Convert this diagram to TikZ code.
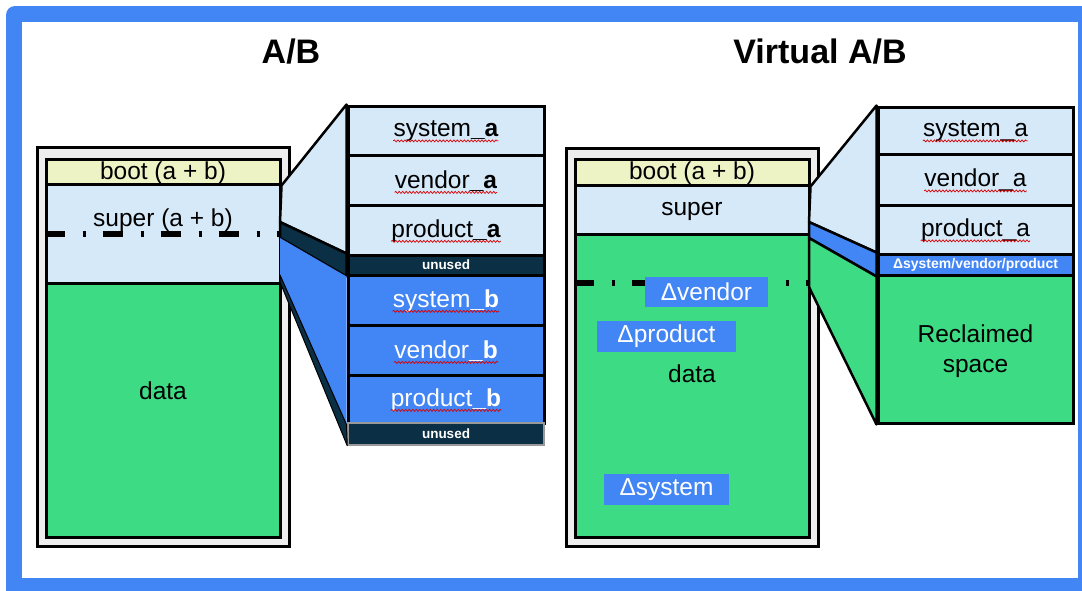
\documentclass[tikz,border=0pt]{standalone}
\usepackage{fontspec}
\setmainfont{Liberation Sans}
\usetikzlibrary{decorations.pathmorphing}

\definecolor{gblue}{HTML}{4285F4}
\definecolor{paleblue}{HTML}{D5E9F9}
\definecolor{bootyellow}{HTML}{EEF3C6}
\definecolor{droid}{HTML}{3DDC84}
\definecolor{navy}{HTML}{0B2F44}
\definecolor{casing}{HTML}{EEEEEE}

\tikzset{
  big/.style={font=\fontsize{24.5}{30}\selectfont, inner sep=0pt},
  title/.style={font=\bfseries\fontsize{34}{40}\selectfont},
  small/.style={font=\bfseries\fontsize{13.5}{15}\selectfont, text=white, inner sep=0pt},
  casebox/.style={draw, line width=3pt, fill=casing, inner sep=0pt, minimum width=252pt},
  slab/.style={draw, line width=3pt, inner sep=0pt, minimum width=234pt},
  part/.style={draw, line width=3pt, inner sep=0pt, minimum width=196pt},
  wedge/.style={draw, line width=2.5pt, line join=round},
  delta/.style={fill=gblue, text=white, big},
  spell/.style={red!85!black, line width=0.7pt, decorate,
    decoration={snake, amplitude=1pt, segment length=3.5pt}},
  dashdot/.style={line width=5.5pt, dash pattern=on 20pt off 18pt on 3pt off 17pt},
}

\begin{document}
\begin{tikzpicture}[x=1pt, y=-1pt]
  \useasboundingbox (0,0) rectangle (1082,590);
  % frame
  \fill[gblue, rounded corners=9pt] (6,6) rectangle (1110,620);
  \fill[white] (22,22) rectangle (1078,578);

  % A/B
  \node[title] (ab-title) at (291,52) {A/B};
  \node[casebox, minimum height=399pt] (ab-case) at (163,346.5) {};
  \node[slab, fill=bootyellow, minimum height=25pt] (ab-boot) at (163,171.5) {};
  \node[slab, fill=paleblue, minimum height=99pt] (ab-super) at (163,233.5) {};
  \node[slab, fill=droid, minimum height=254pt] (ab-data) at (163,410) {};
  \draw[dashdot] (ab-super.west |- 0,234) -- (ab-super.east |- 0,234);
  \node[big] (ab-boot-t) at (163,173) {boot (a + b)};
  \node[big] (ab-super-t) at (163,220) {super (a + b)};
  \node[big] (ab-data-t) at (163,391) {data};

  \coordinate (ab-cut1) at (280,222);
  \coordinate (ab-cut2) at (280,238);
  \coordinate (ab-cut3) at (280,275);
  \coordinate (ab-cut4) at (280,282);

  \node[part, fill=paleblue, minimum height=49pt] (ab-sa) at (446,130.5) {};
  \node[part, fill=paleblue, minimum height=50pt] (ab-va) at (446,180) {};
  \node[part, fill=paleblue, minimum height=50pt] (ab-pa) at (446,230) {};
  \node[part, fill=navy, minimum height=20pt] (ab-u1) at (446,265) {};
  \node[part, fill=gblue, minimum height=50pt] (ab-sb) at (446,300) {};
  \node[part, fill=gblue, minimum height=50pt] (ab-vb) at (446,350) {};
  \node[part, fill=gblue, minimum height=48pt] (ab-pb) at (446,399) {};
  \node[part, fill=navy, draw=gray!80, line width=1.5pt, minimum height=22pt] (ab-u2) at (446,434) {};

  % connectors
  \filldraw[wedge, fill=paleblue] (ab-boot.south east) -- (ab-sa.north west) -- (ab-u1.north west) -- (ab-cut1) -- cycle;
  \filldraw[wedge, fill=navy] (ab-cut1) -- (ab-u1.north west) -- (ab-u1.south west) -- (ab-cut2) -- cycle;
  \fill[gblue] (ab-cut2) -- (ab-u1.south west) -- (ab-pb.south west) -- (ab-cut3) -- cycle;
  \filldraw[wedge, fill=navy, line width=1pt] (ab-cut3) -- (ab-pb.south west) -- (ab-u2.south west) -- (ab-cut4) -- cycle;

  \node[big] (ab-sa-t) at (446,131.5) {system\textbf{\_a}};
  \node[big] (ab-va-t) at (446,181) {vendor\textbf{\_a}};
  \node[big] (ab-pa-t) at (446,231) {product\textbf{\_a}};
  \node[small] (ab-u1-t) at (ab-u1) {unused};
  \node[big, text=white] (ab-sb-t) at (446,301) {system\textbf{\_b}};
  \node[big, text=white] (ab-vb-t) at (446,351) {vendor\textbf{\_b}};
  \node[big, text=white] (ab-pb-t) at (446,400) {product\textbf{\_b}};
  \node[small] (ab-u2-t) at (ab-u2) {unused};

  % Virtual A/B
  \node[title] (vab-title) at (820,52) {Virtual A/B};
  \node[casebox, minimum height=398pt] (vab-case) at (692,347) {};
  \node[slab, fill=bootyellow, minimum height=26pt] (vab-boot) at (692,172) {};
  \node[slab, fill=paleblue, minimum height=49pt] (vab-super) at (692,209.5) {};
  \node[slab, fill=droid, minimum height=303pt] (vab-data) at (692,385.5) {};
  \draw[dashdot] (vab-data.west |- 0,283) -- (vab-data.east |- 0,283);
  \node[big] (vab-boot-t) at (692,173) {boot (a + b)};
  \node[big] (vab-super-t) at (692,211) {super};
  \node[big] (vab-data-t) at (692,374) {data};
  \node[delta, minimum width=123pt, minimum height=30pt] (d-vendor) at (706.5,292) {Δvendor};
  \node[delta, minimum width=139pt, minimum height=31pt] (d-product) at (666.5,336.5) {Δproduct};
  \node[delta, minimum width=125pt, minimum height=31pt] (d-system) at (666.5,489.5) {Δsystem};

  \coordinate (vab-cut1) at (809,222);
  \coordinate (vab-cut2) at (809,238);
  \coordinate (vab-cut3) at (809,287);

  \node[part, fill=paleblue, minimum width=195pt, minimum height=47pt] (vab-sa) at (975.5,130.5) {};
  \node[part, fill=paleblue, minimum width=195pt, minimum height=51pt] (vab-va) at (975.5,179.5) {};
  \node[part, fill=paleblue, minimum width=195pt, minimum height=49pt] (vab-pa) at (975.5,229.5) {};
  \node[part, fill=gblue, minimum width=195pt, minimum height=21pt] (vab-dl) at (975.5,264.5) {};
  \node[part, fill=droid, minimum width=195pt, minimum height=148pt] (vab-rec) at (975.5,349) {};

  % connectors
  \filldraw[wedge, fill=paleblue] (vab-boot.south east) -- (vab-sa.north west) -- (vab-dl.north west) -- (vab-cut1) -- cycle;
  \filldraw[wedge, fill=gblue] (vab-cut1) -- (vab-dl.north west) -- (vab-dl.south west) -- (vab-cut2) -- cycle;
  \filldraw[wedge, fill=droid] (vab-cut2) -- (vab-dl.south west) -- (vab-rec.south west) -- (vab-cut3) -- cycle;

  \node[big] (vab-sa-t) at (975.5,131.5) {system\_a};
  \node[big] (vab-va-t) at (975.5,180.5) {vendor\_a};
  \node[big] (vab-pa-t) at (975.5,230.5) {product\_a};
  \node[small, font=\bfseries\fontsize{14}{15}\selectfont] (vab-dl-t) at (vab-dl) {Δsystem/vendor/product};
  \node[big, align=center] (vab-rec-t) at (975.5,351) {Reclaimed\\space};

  % spell-check marks
  \foreach \n in {ab-sa, ab-va, ab-pa, ab-sb, ab-vb, ab-pb, vab-sa, vab-va, vab-pa}
    \draw[spell] ([yshift=-4pt]\n-t.base west) -- ([yshift=-4pt]\n-t.base east);
\end{tikzpicture}
\end{document}
